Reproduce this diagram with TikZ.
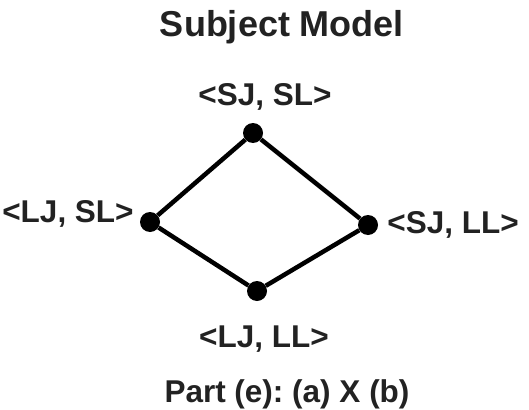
\documentclass[tikz,border=0pt]{standalone}
\usepackage{fontspec}
\setmainfont{Liberation Sans}
\usepackage{tikz}
\usetikzlibrary{positioning}
\definecolor{textgray}{RGB}{34,34,34}
\frenchspacing
\tikzset{
  pt/.style={circle, fill=black, inner sep=0pt, minimum size=20pt},
  lbl/.style={font=\fontsize{31.5}{34}\selectfont\bfseries, text=textgray, inner sep=0pt, anchor=base},
  heading/.style={font=\fontsize{36}{40}\selectfont\bfseries, text=textgray, inner sep=0pt, anchor=base},
  link/.style={draw=black, line width=4.5pt},
}
\begin{document}
\begin{tikzpicture}[x=1pt, y=-1pt]
  \useasboundingbox (0,0) rectangle (529,409);
  \node[heading] (title) at (282,37) {Subject Model};

  \node[pt] (SJSL) at (253,133) {};
  \node[pt] (LJSL) at (150,222) {};
  \node[pt] (SJLL) at (368,225) {};
  \node[pt] (LJLL) at (257,291) {};

  \node[lbl] (tSJSL) at (265,105) {<SJ, SL>};
  \node[lbl] (tLJSL) at (68,222) {<LJ, SL>};
  \node[lbl] (tSJLL) at (453,233) {<SJ, LL>};
  \node[lbl] (tLJLL) at (264,347) {<LJ, LL>};

  \draw[link] (SJSL) -- (LJSL);
  \draw[link] (SJSL) -- (SJLL);
  \draw[link] (LJSL) -- (LJLL);
  \draw[link] (SJLL) -- (LJLL);

  \node[lbl] (caption) at (287,402) {Part (e): (a) X (b)};
\end{tikzpicture}
\end{document}
